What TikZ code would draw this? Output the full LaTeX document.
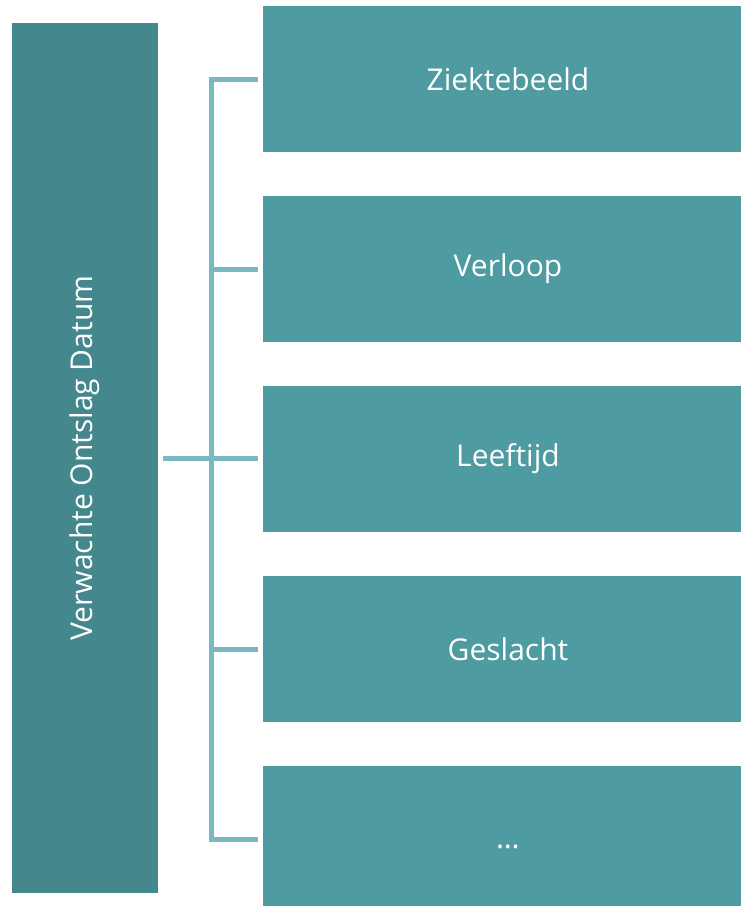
\documentclass[tikz,border=0pt]{standalone}
\usepackage{fontspec}
\setmainfont{Open Sans}
\usepackage{tikz}
\definecolor{donker}{HTML}{44878C}
\definecolor{blok}{HTML}{4E9BA2}
\definecolor{lijnkleur}{HTML}{7BB9C0}
\tikzstyle{hoofd}=[rectangle, fill=donker, text=white, minimum width=146, minimum height=870, inner sep=0pt, font=\fontsize{30}{36}\selectfont]
\tikzstyle{blok}=[rectangle, fill=blok, text=white, minimum width=490, minimum height=146, inner sep=0pt, font=\fontsize{30}{36}\selectfont]
\tikzstyle{lijn}=[line width=5, draw=lijnkleur]

\begin{document}
\begin{tikzpicture}[x=1pt,y=-1pt]
    \useasboundingbox (0,0) rectangle (741,906);
    % Hoofdblok links
    \node[hoofd] (ved) at (85,458) {\rotatebox{90}{Verwachte Ontslag Datum}};
    % Blokken rechts
    \node[blok] (b1) at (508,79) {Ziektebeeld};
    \node[blok] (b2) at (508,269) {Verloop};
    \node[blok] (b3) at (508,459) {Leeftijd};
    \node[blok] (b4) at (508,649) {Geslacht};
    \node[blok] (b5) at (508,839) {\raisebox{-20pt}{\dots}};
    % Verbindingen
    \coordinate (stam) at (211,0);
    \draw[lijn] ([xshift=5]ved.east) -- ([xshift=-5]ved.east -| b3.west);
    \draw[lijn] ([xshift=-5]b1.west) -- (b1.west -| stam) -- (b5.west -| stam) -- ([xshift=-5]b5.west);
    \draw[lijn] (b2.west -| stam) -- ([xshift=-5]b2.west);
    \draw[lijn] (b4.west -| stam) -- ([xshift=-5]b4.west);
\end{tikzpicture}
\end{document}
